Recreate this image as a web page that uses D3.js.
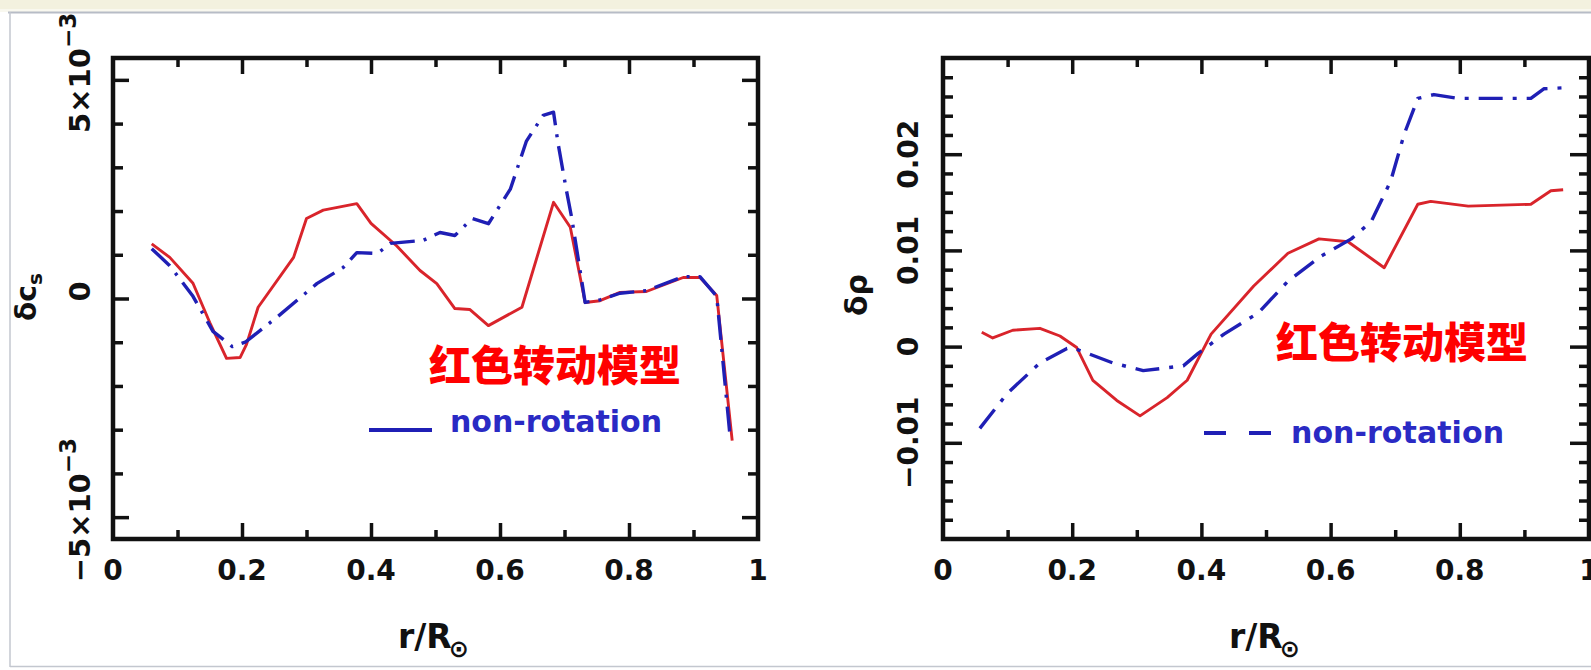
<!DOCTYPE html>
<html>
<head>
<meta charset="utf-8">
<script src="https://cdn.jsdelivr.net/npm/d3@7"></script>
<style>
  html, body { margin: 0; padding: 0; background: #ffffff; }
  svg { display: block; }
</style>
</head>
<body>
<svg id="chart" width="1591" height="670"></svg>
<script>
// ---- data: sound-speed difference (left) ----
const csRotR   = [0.06, 0.088, 0.124, 0.15, 0.176, 0.197, 0.207, 0.225, 0.28, 0.30, 0.326, 0.378, 0.40, 0.44, 0.476, 0.502, 0.53, 0.553, 0.582, 0.634, 0.683, 0.709, 0.732, 0.755, 0.786, 0.827, 0.884, 0.91, 0.936, 0.96];
const csRotV   = [1.25, 0.94, 0.35, -0.55, -1.37, -1.35, -1.05, -0.2, 0.94, 1.83, 2.02, 2.17, 1.72, 1.2, 0.64, 0.34, -0.23, -0.25, -0.62, -0.2, 2.2, 1.63, -0.09, -0.05, 0.14, 0.16, 0.48, 0.48, 0.07, -3.25];
const csNonR   = [0.06, 0.088, 0.124, 0.155, 0.185, 0.205, 0.254, 0.316, 0.357, 0.378, 0.41, 0.43, 0.481, 0.507, 0.53, 0.557, 0.582, 0.616, 0.641, 0.667, 0.683, 0.69, 0.703, 0.711, 0.732, 0.755, 0.786, 0.827, 0.884, 0.91, 0.936, 0.957];
const csNonV   = [1.14, 0.75, 0.05, -0.75, -1.1, -1.0, -0.43, 0.34, 0.71, 1.05, 1.03, 1.26, 1.33, 1.51, 1.44, 1.83, 1.71, 2.5, 3.6, 4.19, 4.26, 3.55, 2.47, 1.86, -0.09, -0.03, 0.12, 0.18, 0.5, 0.5, 0.05, -3.2];
const csScale  = 1e-3;

// ---- data: density difference (right) ----
const rhoRotR  = [0.06, 0.077, 0.108, 0.15, 0.181, 0.207, 0.232, 0.269, 0.305, 0.347, 0.378, 0.415, 0.481, 0.534, 0.582, 0.627, 0.683, 0.735, 0.755, 0.813, 0.91, 0.941, 0.96];
const rhoRotV  = [0.0015, 0.0009, 0.0017, 0.0019, 0.0011, -0.0001, -0.0035, -0.0056, -0.0072, -0.0053, -0.0035, 0.0013, 0.0063, 0.0097, 0.0112, 0.0109, 0.0082, 0.0148, 0.0151, 0.0146, 0.0148, 0.0162, 0.0163];
const rhoNonR  = [0.057, 0.099, 0.15, 0.192, 0.2, 0.263, 0.31, 0.372, 0.395, 0.435, 0.488, 0.534, 0.585, 0.632, 0.663, 0.693, 0.714, 0.735, 0.76, 0.797, 0.91, 0.93, 0.96];
const rhoNonV  = [-0.0085, -0.0049, -0.0017, -0.0002, -0.0001, -0.0017, -0.0025, -0.002, -0.0007, 0.0013, 0.0035, 0.0068, 0.0094, 0.0112, 0.013, 0.0172, 0.0221, 0.0258, 0.0262, 0.0258, 0.0258, 0.0268, 0.0269];

// ---- ticks and labels ----
const xMajorTicks  = [0.2, 0.4, 0.6, 0.8];
const xMinorTicks  = [0.1, 0.3, 0.5, 0.7, 0.9];
const xTickLabels  = ["0", "0.2", "0.4", "0.6", "0.8", "1"];
const xTickValues  = [0, 0.2, 0.4, 0.6, 0.8, 1];
const csMajorTicks = [-5e-3, 0, 5e-3];
const csMinorTicks = [-4e-3, -3e-3, -2e-3, -1e-3, 1e-3, 2e-3, 3e-3, 4e-3];
const csTickBase   = ["\u22125\u00d710", "0", "5\u00d710"];
const csTickExp    = ["\u22123", "", "\u22123"];
const rhoMajorTicks = [-0.01, 0, 0.01, 0.02];
const rhoMinorTicks = [-0.018, -0.016, -0.014, -0.012, -0.008, -0.006, -0.004, -0.002, 0.002, 0.004, 0.006, 0.008, 0.012, 0.014, 0.016, 0.018, 0.022, 0.024, 0.026, 0.028];
const rhoTickLabels = ["\u22120.01", "0", "0.01", "0.02"];

const annotation = "红色转动模型";
const legendText = "non-rotation";

const RED = "#d9242b";
const BLUE = "#1f1fb5";
const FONT = "'DejaVu Sans', sans-serif";

const svg = d3.select("#chart");

// page chrome: cream strip and thin grey border
svg.append("rect").attr("x", 0).attr("y", 0).attr("width", 1591).attr("height", 9).attr("fill", "#f3f1df");
svg.append("rect").attr("x", 0).attr("y", 9).attr("width", 1591).attr("height", 3).attr("fill", "#f9f8ef");
svg.append("line").attr("x1", 8).attr("x2", 1591).attr("y1", 12.5).attr("y2", 12.5).attr("stroke", "#b7bcc6").attr("stroke-width", 2);
svg.append("line").attr("x1", 10).attr("x2", 10).attr("y1", 12).attr("y2", 667).attr("stroke", "#c3c7cf").attr("stroke-width", 1.5);
svg.append("line").attr("x1", 10).attr("x2", 1591).attr("y1", 666.5).attr("y2", 666.5).attr("stroke", "#c3c7cf").attr("stroke-width", 1.5);

function panel(x, y, yMajor, yMinor, majLen) {
  const g = svg.append("g");
  const [x0, x1] = x.range();
  const [y0, y1] = y.range();
  const tickAxis = (axis, tx, ty) => {
    const a = g.append("g").attr("transform", `translate(${tx},${ty})`).call(axis);
    a.select(".domain").remove();
    a.selectAll("line").attr("stroke", "#111").attr("stroke-width", 3.5);
  };
  // bottom / top
  tickAxis(d3.axisBottom(x).tickValues(xMajorTicks).tickSize(-16).tickFormat(""), 0, y0);
  tickAxis(d3.axisBottom(x).tickValues(xMinorTicks).tickSize(-9).tickFormat(""), 0, y0);
  tickAxis(d3.axisTop(x).tickValues(xMajorTicks).tickSize(-16).tickFormat(""), 0, y1);
  tickAxis(d3.axisTop(x).tickValues(xMinorTicks).tickSize(-9).tickFormat(""), 0, y1);
  // left / right
  tickAxis(d3.axisLeft(y).tickValues(yMajor).tickSize(-majLen).tickFormat(""), x0, 0);
  tickAxis(d3.axisLeft(y).tickValues(yMinor).tickSize(-10).tickFormat(""), x0, 0);
  tickAxis(d3.axisRight(y).tickValues(yMajor).tickSize(-majLen).tickFormat(""), x1, 0);
  tickAxis(d3.axisRight(y).tickValues(yMinor).tickSize(-10).tickFormat(""), x1, 0);
  // frame
  g.append("rect").attr("x", x0).attr("y", y1).attr("width", x1 - x0).attr("height", y0 - y1)
    .attr("fill", "none").attr("stroke", "#111").attr("stroke-width", 4.5);
  // x tick labels
  g.selectAll("text.xl").data(xTickValues).join("text")
    .attr("x", d => x(d)).attr("y", 580)
    .attr("text-anchor", "middle").attr("font-family", FONT).attr("font-weight", "bold")
    .attr("font-size", 28).attr("fill", "#111")
    .text((d, i) => xTickLabels[i]);
  return g;
}

function curve(g, x, y, rs, vs, scale, color, width, dash) {
  const pts = rs.map((r, i) => [r, vs[i] * scale]);
  const line = d3.line().x(d => x(d[0])).y(d => y(d[1]));
  g.append("path").attr("d", line(pts)).attr("fill", "none")
    .attr("stroke", color).attr("stroke-width", width)
    .attr("stroke-linejoin", "round").attr("stroke-linecap", "butt")
    .attr("stroke-dasharray", dash);
}

// ---------- left: delta c_s ----------
const xL = d3.scaleLinear().domain([0, 1]).range([113, 758]);
const yL = d3.scaleLinear().domain([-5.5e-3, 5.5e-3]).range([539, 58]);
const gL = panel(xL, yL, csMajorTicks, csMinorTicks, 16);
curve(gL, xL, yL, csRotR, csRotV, csScale, RED, 2.9, null);
curve(gL, xL, yL, csNonR, csNonV, csScale, BLUE, 3.4, "25 9 3 9");

csMajorTicks.forEach((v, i) => {
  const t = gL.append("text")
    .attr("transform", `translate(90,${yL(v) - 7}) rotate(-90)`)
    .attr("text-anchor", "middle").attr("font-family", FONT).attr("font-weight", "bold")
    .attr("font-size", 29).attr("fill", "#111");
  t.append("tspan").text(csTickBase[i]);
  if (csTickExp[i]) t.append("tspan").attr("dy", -14).attr("font-size", 23).text(csTickExp[i]);
});
{
  const t = gL.append("text").attr("transform", "translate(36,297) rotate(-90)")
    .attr("text-anchor", "middle").attr("font-family", FONT).attr("font-weight", "bold")
    .attr("font-size", 28).attr("fill", "#111");
  t.append("tspan").text("\u03b4c");
  t.append("tspan").attr("dy", 6).attr("font-size", 20).text("s");
}
{
  const t = gL.append("text").attr("x", 398).attr("y", 648)
    .attr("font-family", FONT).attr("font-weight", "bold").attr("font-size", 33).attr("fill", "#111");
  t.append("tspan").text("r/R");
  t.append("tspan").attr("dy", 9).attr("dx", -3).attr("font-size", 24).text("\u2299");
}
gL.append("text").attr("x", 429).attr("y", 381)
  .attr("font-family", "'Noto Sans CJK SC', sans-serif").attr("font-weight", 900)
  .attr("font-size", 42).attr("fill", "#ff0000").text(annotation);
gL.append("line").attr("x1", 369).attr("x2", 432).attr("y1", 430).attr("y2", 430)
  .attr("stroke", BLUE).attr("stroke-width", 4);
gL.append("text").attr("x", 450).attr("y", 432)
  .attr("font-family", FONT).attr("font-weight", "bold").attr("font-size", 30)
  .attr("fill", "#2a2ac4").attr("textLength", 212).text(legendText);

// ---------- right: delta rho ----------
const xR = d3.scaleLinear().domain([0, 1]).range([943, 1589]);
const yR = d3.scaleLinear().domain([-0.02, 0.03]).range([539, 58]);
const gR = panel(xR, yR, rhoMajorTicks, rhoMinorTicks, 19);
curve(gR, xR, yR, rhoRotR, rhoRotV, 1, RED, 2.9, null);
curve(gR, xR, yR, rhoNonR, rhoNonV, 1, BLUE, 3.4, "24 10 4 10");

gR.selectAll("text.yl").data(rhoMajorTicks).join("text")
  .attr("transform", d => `translate(918,${yR(d)}) rotate(-90)`)
  .attr("text-anchor", "middle").attr("font-family", FONT).attr("font-weight", "bold")
  .attr("font-size", 28).attr("fill", "#111")
  .text((d, i) => rhoTickLabels[i]);
gR.append("text").attr("transform", "translate(867,295) rotate(-90)")
  .attr("text-anchor", "middle").attr("font-family", FONT).attr("font-weight", "bold")
  .attr("font-size", 30).attr("fill", "#111").text("\u03b4\u03c1");
{
  const t = gR.append("text").attr("x", 1229).attr("y", 648)
    .attr("font-family", FONT).attr("font-weight", "bold").attr("font-size", 33).attr("fill", "#111");
  t.append("tspan").text("r/R");
  t.append("tspan").attr("dy", 9).attr("dx", -3).attr("font-size", 24).text("\u2299");
}
gR.append("text").attr("x", 1276).attr("y", 358)
  .attr("font-family", "'Noto Sans CJK SC', sans-serif").attr("font-weight", 900)
  .attr("font-size", 42).attr("fill", "#ff0000").text(annotation);
gR.append("line").attr("x1", 1204).attr("x2", 1271).attr("y1", 433).attr("y2", 433)
  .attr("stroke", BLUE).attr("stroke-width", 4).attr("stroke-dasharray", "22 23");
gR.append("text").attr("x", 1291).attr("y", 443)
  .attr("font-family", FONT).attr("font-weight", "bold").attr("font-size", 30)
  .attr("fill", "#2a2ac4").attr("textLength", 213).text(legendText);
</script>
</body>
</html>
